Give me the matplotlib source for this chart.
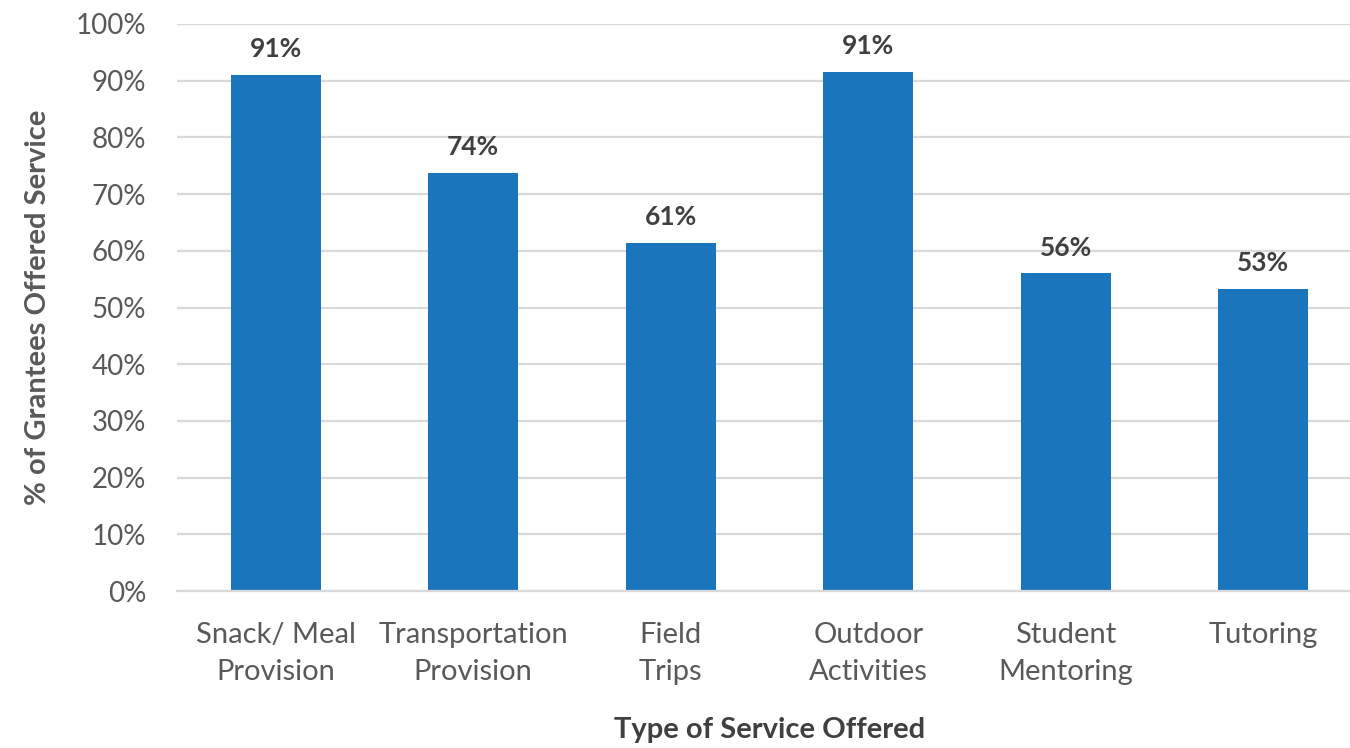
import matplotlib
matplotlib.use("Agg")
import matplotlib.pyplot as plt
from matplotlib.ticker import PercentFormatter

categories = ["Snack/ Meal\nProvision", "Transportation\nProvision", "Field\nTrips",
              "Outdoor\nActivities", "Student\nMentoring", "Tutoring"]
values = [91.0, 73.8, 61.4, 91.5, 56.0, 53.3]
labels = ["91%", "74%", "61%", "91%", "56%", "53%"]
yticks = [0, 10, 20, 30, 40, 50, 60, 70, 80, 90, 100]

plt.rcParams['font.family'] = ['Lato', 'DejaVu Sans']

fig = plt.figure(figsize=(13.5, 7.48), dpi=100)
W, H = 1350, 748
ax = fig.add_axes([177 / W, 1 - 591 / H, (1362 - 177) / W, (591 - 24) / H])

x = list(range(len(categories)))
bars = ax.bar(x, values, width=0.455, color="#1B75BC", zorder=3)
for xi, v, lab in zip(x, values, labels):
    ax.annotate(lab, (xi, v), xytext=(0, 10), textcoords="offset points",
                ha="center", va="bottom", fontsize=19, fontweight="bold", color="#404040")

ax.set_xlim(-0.5, len(categories) - 0.5)
ax.set_ylim(0, 100)
ax.set_yticks(yticks)
ax.yaxis.set_major_formatter(PercentFormatter(decimals=0))
ax.set_xticks(x)
ax.set_xticklabels(categories, fontsize=21, color="#595959", linespacing=1.55)
ax.tick_params(axis="y", labelsize=20, labelcolor="#595959", length=0, pad=22)
ax.tick_params(axis="x", length=0, pad=22)
ax.grid(axis="y", color="#D9D9D9", linewidth=1.6, zorder=0)
for s in ["top", "right", "left"]:
    ax.spines[s].set_visible(False)
ax.spines["bottom"].set_color("#D9D9D9")
ax.spines["bottom"].set_linewidth(1.6)
ax.spines["bottom"].set_zorder(4)

ax.set_ylabel("% of Grantees Offered Service", fontsize=21, fontweight="bold",
              color="#595959", labelpad=18)
ax.set_xlabel("Type of Service Offered", fontsize=21, fontweight="bold",
              color="#404040", labelpad=23)

fig.savefig("out.png", dpi=100)
